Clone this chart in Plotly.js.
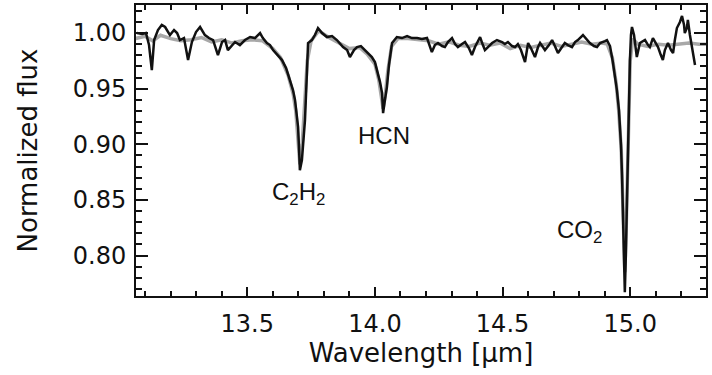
<!DOCTYPE html>
<html>
<head>
<meta charset="utf-8">
<script src="https://cdn.plot.ly/plotly-3.0.1.min.js"></script>
<style>html,body{margin:0;padding:0;background:#fff;}#chart{width:712px;height:375px;}</style>
</head>
<body>
<div id="chart"></div>
<script>
// Observed spectrum (black)
const wavelengthObs = [13.068, 13.088, 13.103, 13.115, 13.126, 13.135, 13.150, 13.165, 13.178, 13.197,
  13.213, 13.225, 13.236, 13.252, 13.268, 13.283, 13.299, 13.315, 13.334, 13.350,
  13.366, 13.385, 13.401, 13.413, 13.424, 13.440, 13.452, 13.471, 13.491, 13.511,
  13.530, 13.550, 13.561, 13.577, 13.589, 13.601, 13.620, 13.636, 13.652, 13.667,
  13.679, 13.687, 13.695, 13.699, 13.703, 13.706, 13.714, 13.722, 13.726, 13.734,
  13.738, 13.753, 13.765, 13.777, 13.793, 13.812, 13.832, 13.851, 13.863, 13.875,
  13.891, 13.902, 13.918, 13.930, 13.945, 13.961, 13.977, 13.988, 14.000, 14.012,
  14.020, 14.028, 14.032, 14.039, 14.047, 14.055, 14.067, 14.086, 14.106, 14.126,
  14.145, 14.165, 14.184, 14.204, 14.223, 14.235, 14.247, 14.263, 14.274, 14.286,
  14.302, 14.314, 14.325, 14.341, 14.353, 14.368, 14.380, 14.392, 14.404, 14.412,
  14.423, 14.431, 14.447, 14.459, 14.478, 14.498, 14.509, 14.521, 14.537, 14.549,
  14.560, 14.572, 14.588, 14.600, 14.611, 14.627, 14.639, 14.647, 14.658, 14.666,
  14.682, 14.694, 14.705, 14.717, 14.733, 14.744, 14.756, 14.772, 14.784, 14.795,
  14.815, 14.831, 14.842, 14.858, 14.870, 14.882, 14.889, 14.901, 14.909, 14.921,
  14.932, 14.940, 14.948, 14.956, 14.960, 14.964, 14.968, 14.972, 14.976, 14.979,
  14.983, 14.987, 14.991, 14.995, 14.999, 15.003, 15.007, 15.015, 15.026, 15.038,
  15.058, 15.070, 15.077, 15.089, 15.101, 15.109, 15.120, 15.128, 15.136, 15.148,
  15.160, 15.168, 15.175, 15.183, 15.195, 15.203, 15.211, 15.214, 15.222, 15.226,
  15.234, 15.242, 15.254];
const fluxObs = [1.000, 0.9991, 1.000, 0.9892, 0.9667, 0.9937, 1.0027, 1.0072, 1.0054, 0.9982,
  1.0027, 1.000, 0.9937, 0.9955, 0.9757, 0.9919, 1.0009, 1.0054, 0.9982, 0.9955,
  0.9937, 0.9802, 0.9919, 0.9937, 0.9847, 0.9892, 0.9919, 0.9892, 0.9937, 0.9964,
  0.9955, 1.000, 0.9955, 0.991, 0.9892, 0.9847, 0.9802, 0.9757, 0.9685, 0.9577,
  0.9487, 0.9397, 0.9262, 0.9154, 0.8947, 0.8767, 0.8857, 0.9127, 0.9217, 0.9667,
  0.991, 0.9937, 0.9982, 1.0045, 1.000, 0.9964, 0.9973, 0.9937, 0.9901, 0.9874,
  0.9847, 0.9784, 0.9847, 0.9874, 0.9883, 0.9847, 0.9802, 0.9784, 0.9739, 0.964,
  0.9559, 0.946, 0.928, 0.9397, 0.9514, 0.9712, 0.991, 0.9964, 0.9955, 0.9973,
  0.9955, 0.9955, 0.9946, 0.9955, 0.9829, 0.9892, 0.991, 0.9883, 0.9874, 0.9919,
  0.9955, 0.9901, 0.9874, 0.9901, 0.9919, 0.9865, 0.9802, 0.9874, 0.9937, 0.9964,
  0.9892, 0.9847, 0.9883, 0.991, 0.9937, 0.9919, 0.9901, 0.9919, 0.9883, 0.9874,
  0.9901, 0.9847, 0.9739, 0.991, 0.9865, 0.9784, 0.9874, 0.991, 0.9874, 0.9847,
  0.9892, 0.9937, 0.9883, 0.982, 0.9874, 0.991, 0.9892, 0.9874, 0.9919, 0.9937,
  0.9982, 0.9937, 0.991, 0.9883, 0.9874, 0.991, 0.9919, 0.9928, 0.9937, 0.9883,
  0.9739, 0.9622, 0.9487, 0.9307, 0.9172, 0.8992, 0.8722, 0.8317, 0.7957, 0.7669,
  0.8002, 0.8497, 0.8947, 0.9397, 0.9757, 0.9982, 1.0054, 0.9982, 0.9784, 0.991,
  0.9937, 0.9892, 0.9874, 0.9955, 0.9901, 0.9874, 0.9802, 0.9757, 0.9847, 0.991,
  0.9847, 0.982, 0.9937, 1.0045, 1.0099, 1.0153, 1.0072, 1.000, 1.0045, 1.0117,
  0.9982, 0.9874, 0.9712];

// Model spectrum (gray)
const wavelengthModel = [13.06, 13.10, 13.13, 13.16, 13.20, 13.24, 13.28, 13.32, 13.36, 13.40,
  13.44, 13.48, 13.52, 13.56, 13.60, 13.63, 13.66, 13.68, 13.69, 13.70,
  13.706, 13.715, 13.725, 13.735, 13.75, 13.78, 13.82, 13.86, 13.90, 13.94,
  13.97, 14.00, 14.015, 14.025, 14.032, 14.04, 14.05, 14.065, 14.09, 14.13,
  14.17, 14.21, 14.25, 14.29, 14.33, 14.37, 14.41, 14.45, 14.49, 14.53,
  14.57, 14.61, 14.65, 14.69, 14.73, 14.77, 14.81, 14.85, 14.89, 14.91,
  14.93, 14.945, 14.955, 14.965, 14.972, 14.979, 14.985, 14.992, 15.0, 15.01,
  15.03, 15.07, 15.11, 15.15, 15.19, 15.23, 15.27, 15.30];
const fluxModel = [0.995, 0.997, 0.993, 0.998, 0.995, 0.993, 0.994, 0.996, 0.992, 0.994,
  0.991, 0.993, 0.994, 0.993, 0.986, 0.978, 0.962, 0.945, 0.930, 0.905,
  0.882, 0.900, 0.935, 0.975, 0.993, 1.002, 0.996, 0.991, 0.986, 0.987,
  0.981, 0.972, 0.958, 0.943, 0.932, 0.943, 0.965, 0.988, 0.995, 0.995,
  0.994, 0.993, 0.990, 0.992, 0.989, 0.988, 0.991, 0.989, 0.991, 0.986,
  0.989, 0.987, 0.989, 0.991, 0.988, 0.990, 0.992, 0.990, 0.991, 0.990,
  0.978, 0.955, 0.930, 0.895, 0.850, 0.785, 0.830, 0.910, 0.975, 0.995,
  0.990, 0.988, 0.990, 0.989, 0.990, 0.991, 0.990, 0.990];

// Molecule labels
const labelText = ['C<sub>2</sub>H<sub>2</sub>', 'HCN', 'CO<sub>2</sub>'];
const labelX = [13.699, 14.035, 14.803];
const labelY = [0.856, 0.908, 0.822];

// Tick spacing (major / minor)
const xTickStart = 13.5, xTickStep = 0.5, xMinorStep = 0.1;
const yTickStart = 0.80, yTickStep = 0.05, yMinorStep = 0.01;

const xRange = [13.064, 15.297];
const yRange = [0.7636, 1.0252];

const traces = [
  {x: wavelengthModel, y: fluxModel, type: 'scatter', mode: 'lines',
   line: {color: '#a8a8a8', width: 3.5}, hoverinfo: 'skip'},
  {x: wavelengthObs, y: fluxObs, type: 'scatter', mode: 'lines',
   line: {color: '#111111', width: 2.5}, hoverinfo: 'skip'},
  // carrier for the mirrored (top/right) tick axes
  {x: [xRange[0]], y: [yRange[0]], xaxis: 'x2', yaxis: 'y2', type: 'scatter', mode: 'markers',
   marker: {opacity: 0}, hoverinfo: 'skip'}
];

const tickFont = {family: 'DejaVu Sans, sans-serif', size: 24, color: '#111'};
const titleFont = {family: 'DejaVu Sans, sans-serif', size: 26, color: '#111'};

const minorX = {ticks: 'inside', ticklen: 5, tickwidth: 2, tickcolor: '#111', dtick: xMinorStep, showgrid: false};
const minorY = {ticks: 'inside', ticklen: 6, tickwidth: 2, tickcolor: '#111', dtick: yMinorStep, showgrid: false};

const xTickBase = {tickmode: 'linear', tick0: xTickStart, dtick: xTickStep, tickformat: '.1f',
  ticks: 'inside', ticklen: 9, tickwidth: 2, tickcolor: '#111', minor: minorX};
const yTickBase = {tickmode: 'linear', tick0: yTickStart, dtick: yTickStep, tickformat: '.2f',
  ticks: 'inside', ticklen: 12, tickwidth: 2, tickcolor: '#111', minor: minorY};

const layout = {
  width: 712, height: 375,
  margin: {l: 136, r: 6, t: 5, b: 79},
  paper_bgcolor: '#fff', plot_bgcolor: '#fff',
  showlegend: false,
  xaxis: Object.assign({
    range: xRange, showgrid: false, zeroline: false,
    showline: true, linecolor: '#111', linewidth: 2, mirror: true,
    tickfont: tickFont, ticklabelstandoff: 5,
    title: {text: 'Wavelength [μm]', font: titleFont, standoff: 2}
  }, xTickBase),
  yaxis: Object.assign({
    range: yRange, showgrid: false, zeroline: false,
    showline: true, linecolor: '#111', linewidth: 2, mirror: true,
    tickfont: tickFont, ticklabelstandoff: 3,
    title: {text: 'Normalized flux', font: titleFont, standoff: 28}
  }, yTickBase),
  xaxis2: Object.assign({
    overlaying: 'x', side: 'top', anchor: 'y2', range: xRange,
    showgrid: false, zeroline: false, showline: false, showticklabels: false
  }, xTickBase),
  yaxis2: Object.assign({
    overlaying: 'y', side: 'right', anchor: 'x2', range: yRange,
    showgrid: false, zeroline: false, showline: false, showticklabels: false
  }, yTickBase),
  annotations: labelText.map((t, i) => ({
    x: labelX[i], y: labelY[i], xref: 'x', yref: 'y', text: t,
    showarrow: false, font: {family: 'Liberation Sans, Arial, sans-serif', size: 24, color: '#111'}
  }))
};

Plotly.newPlot('chart', traces, layout, {displayModeBar: false, staticPlot: true});
</script>
</body>
</html>
